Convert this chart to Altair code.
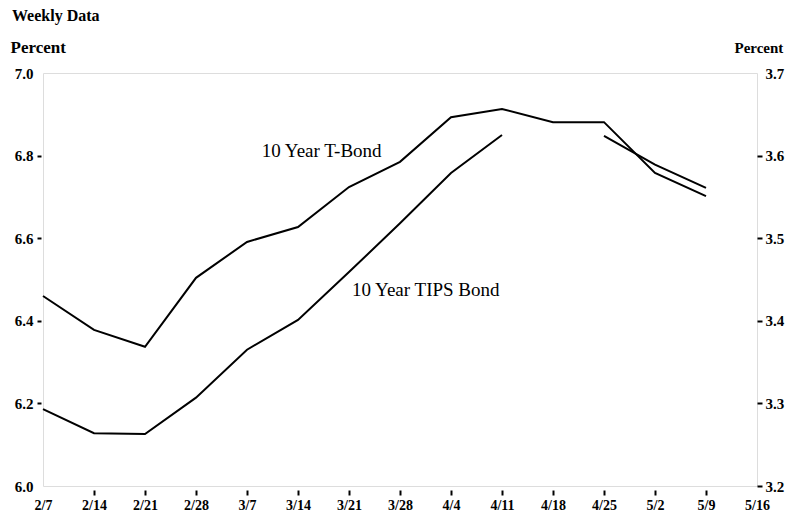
import altair as alt
import pandas as pd

weeks = ["2/7", "2/14", "2/21", "2/28", "3/7", "3/14", "3/21", "3/28",
         "4/4", "4/11", "4/18", "4/25", "5/2", "5/9", "5/16"]
tbond = [6.46, 6.378, 6.337, 6.504, 6.591, 6.627, 6.724, 6.785,
         6.893, 6.913, 6.881, 6.881, 6.758, 6.702]
tips_first = [3.293, 3.264, 3.263, 3.307, 3.365, 3.401, 3.459, 3.518, 3.579, 3.625]
tips_second_weeks = [11, 12, 13]
tips_second = [3.624, 3.589, 3.561]

left_ticks = [6.0, 6.2, 6.4, 6.6, 6.8, 7.0]
right_ticks = [3.2, 3.3, 3.4, 3.5, 3.6, 3.7]

tb_df = pd.DataFrame({"week": list(range(len(tbond))), "value": tbond})
tips_df = pd.DataFrame({
    "week": list(range(len(tips_first))) + tips_second_weeks,
    "value": tips_first + tips_second,
    "seg": ["a"] * len(tips_first) + ["b"] * len(tips_second),
})
tb_lab = pd.DataFrame({"week": [4.29], "value": [6.811], "label": ["10 Year T-Bond"]})
tips_lab = pd.DataFrame({"week": [6.06], "value": [3.437], "label": ["10 Year TIPS Bond"]})

FONT = "Liberation Serif"
label_expr = "[" + ",".join("'" + w + "'" for w in weeks) + "][round(datum.value)]"

x_enc = alt.X(
    "week:Q",
    scale=alt.Scale(domain=[0, len(weeks) - 1], nice=False, zero=False),
    axis=alt.Axis(
        values=list(range(len(weeks))), labelExpr=label_expr, title=None,
        domain=False, grid=False, offset=4, tickSize=5, labelPadding=3,
        tickColor="black", tickWidth=2, labelFlush=False,
        tickOpacity={"condition": {"test": "datum.value == 0 || datum.value == 14", "value": 0}, "value": 1},
        labelFont=FONT, labelFontSize=14, labelFontWeight="bold", labelColor="black",
    ),
)

left_scale = alt.Scale(domain=[6.0, 7.0], nice=False, zero=False)
right_scale = alt.Scale(domain=[3.2, 3.7], nice=False, zero=False)

tb_line = alt.Chart(tb_df).mark_line(color="black", strokeWidth=2).encode(
    x=x_enc,
    y=alt.Y("value:Q", scale=left_scale, axis=alt.Axis(
        orient="left", values=left_ticks, format=".1f", domain=False, grid=False,
        offset=2, tickSize=4, labelPadding=4, tickColor="black", tickWidth=2, labelFlush=False,
        tickOpacity={"condition": {"test": "datum.value > 6.95 || datum.value < 6.05", "value": 0}, "value": 1},
        labelFont=FONT, labelFontSize=15, labelFontWeight="bold", labelColor="black",
        title="Percent", titleAngle=0, titleX=-31, titleY=-21, titleAlign="left",
        titleBaseline="alphabetic", titleFont=FONT, titleFontSize=17, titleFontWeight="bold",
        titleColor="black",
    )),
)
tb_text = alt.Chart(tb_lab).mark_text(
    font=FONT, fontSize=19, align="left", baseline="middle", color="black"
).encode(x="week:Q", y=alt.Y("value:Q", scale=left_scale), text="label:N")

tips_line = alt.Chart(tips_df).mark_line(color="black", strokeWidth=2).encode(
    x=x_enc,
    y=alt.Y("value:Q", scale=right_scale, axis=alt.Axis(
        orient="right", values=right_ticks, format=".1f", domain=False, grid=False,
        offset=0, tickSize=5, labelPadding=3, tickColor="black", tickWidth=2, labelFlush=False,
        tickOpacity={"condition": {"test": "datum.value > 3.65", "value": 0}, "value": 1},
        labelFont=FONT, labelFontSize=15, labelFontWeight="bold", labelColor="black",
        title="Percent", titleAngle=0, titleX=-23, titleY=-21, titleAlign="left",
        titleBaseline="alphabetic", titleFont=FONT, titleFontSize=15, titleFontWeight="bold",
        titleColor="black",
    )),
    detail="seg:N",
)
tips_text = alt.Chart(tips_lab).mark_text(
    font=FONT, fontSize=19, align="left", baseline="middle", color="black"
).encode(x="week:Q", y=alt.Y("value:Q", scale=right_scale), text="label:N")

header = alt.Chart(pd.DataFrame({"t": ["Weekly Data"]})).mark_text(
    font=FONT, fontSize=16, fontWeight="bold", align="left", baseline="alphabetic", color="black"
).encode(x=alt.value(-31), y=alt.value(-52), text="t:N")

chart = alt.layer(
    alt.layer(tb_line, tb_text),
    alt.layer(tips_line, tips_text),
    header,
).resolve_scale(y="independent").properties(
    width=714, height=413,
    autosize=alt.AutoSizeParams(type="none"),
    padding={"left": 35, "top": 65, "right": 32, "bottom": 25},
).configure_view(stroke=None).configure(background="white")

chart.save("out.html", embed_options={"renderer": "svg", "actions": False})
